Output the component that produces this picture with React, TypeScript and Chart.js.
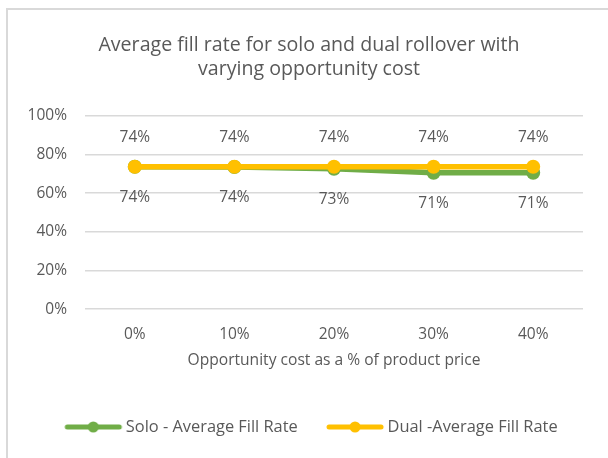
import React, { useEffect, useRef } from "react";
import { Chart, registerables } from "chart.js";

Chart.register(...registerables);

const categories = ["0%", "10%", "20%", "30%", "40%"];
const soloFillRate = [0.737, 0.736, 0.727, 0.706, 0.706];
const dualFillRate = [0.737, 0.737, 0.737, 0.737, 0.737];
const yTickValues = [0, 0.2, 0.4, 0.6, 0.8, 1.0];

const titleLines = [
  "Average fill rate for solo and dual rollover with",
  "varying opportunity cost",
];
const xAxisTitle = "Opportunity cost as a % of product price";
const soloLabel = "Solo - Average Fill Rate";
const dualLabel = "Dual -Average Fill Rate";

const GREEN = "#70AD47";
const YELLOW = "#FFC000";
const TEXT = "#595959";
const GRID = "#d9d9d9";
const FONT = "'Open Sans', Lato, sans-serif";

function legendImage(color: string): HTMLCanvasElement {
  const c = document.createElement("canvas");
  c.width = 60;
  c.height = 14;
  const ctx = c.getContext("2d")!;
  ctx.strokeStyle = color;
  ctx.lineWidth = 5;
  ctx.lineCap = "round";
  ctx.beginPath();
  ctx.moveTo(4, 7);
  ctx.lineTo(56, 7);
  ctx.stroke();
  ctx.fillStyle = color;
  ctx.beginPath();
  ctx.arc(30, 7, 5.5, 0, Math.PI * 2);
  ctx.fill();
  return c;
}

const dataLabels = {
  id: "dataLabels",
  afterDatasetsDraw(chart: any) {
    const ctx = chart.ctx;
    ctx.save();
    ctx.font = `15.5px ${FONT}`;
    ctx.fillStyle = TEXT;
    ctx.textAlign = "center";
    ctx.textBaseline = "middle";
    chart.data.datasets.forEach((ds: any, i: number) => {
      const meta = chart.getDatasetMeta(i);
      meta.data.forEach((el: any, j: number) => {
        const v = ds.data[j] as number;
        ctx.fillText(Math.round(v * 100) + "%", el.x, el.y + ds.labelOffset);
      });
    });
    ctx.restore();
  },
};

const boxShift = {
  id: "boxShift",
  afterLayout(chart: any) {
    const lg = chart.legend;
    if (lg) {
      const h = lg.height;
      lg.left = 36;
      lg.right = chart.width;
      lg.width = lg.right - lg.left;
      lg.top = 385.8;
      lg.bottom = lg.top + h;
    }
    const tb = chart.titleBlock;
    if (tb) {
      tb.left = 10;
      tb.right = chart.width;
      tb.width = tb.right - tb.left;
    }
  },
};

export default function App() {
  const ref = useRef<HTMLCanvasElement>(null);
  useEffect(() => {
    const greenImg = legendImage(GREEN);
    const yellowImg = legendImage(YELLOW);
    const chart = new Chart(ref.current!, {
      type: "line",
      data: {
        labels: categories,
        datasets: [
          {
            label: soloLabel,
            data: soloFillRate,
            borderColor: GREEN,
            backgroundColor: GREEN,
            borderWidth: 5.5,
            pointRadius: 7,
            pointBorderWidth: 0,
            pointBackgroundColor: GREEN,
            order: 1,
            labelOffset: 31,
          } as any,
          {
            label: dualLabel,
            data: dualFillRate,
            borderColor: YELLOW,
            backgroundColor: YELLOW,
            borderWidth: 5.5,
            pointRadius: 7,
            pointBorderWidth: 0,
            pointBackgroundColor: YELLOW,
            order: 0,
            labelOffset: -29,
          } as any,
        ],
      },
      options: {
        responsive: false,
        animation: false,
        layout: { padding: { left: 25, right: 25, top: 0, bottom: 23.2 } },
        scales: {
          x: {
            offset: true,
            grid: { display: false, drawTicks: false },
            border: { display: false },
            ticks: { color: TEXT, font: { family: FONT, size: 15.5 }, padding: 15.7 },
            title: {
              display: true,
              text: xAxisTitle,
              color: TEXT,
              font: { family: FONT, size: 15.6 },
              padding: { top: -7.4, bottom: 5 },
            },
          },
          y: {
            min: 0,
            max: 1,
            afterBuildTicks(scale: any) {
              scale.ticks = yTickValues.map((v) => ({ value: v }));
            },
            afterFit(scale: any) {
              scale.width = 60;
            },
            grid: { color: GRID, lineWidth: 1.5, drawTicks: false },
            border: { display: false },
            ticks: {
              color: TEXT,
              font: { family: FONT, size: 15.5 },
              padding: 18,
              callback: (v: any) => Math.round(Number(v) * 100) + "%",
            },
          },
        },
        plugins: {
          title: {
            display: true,
            text: titleLines,
            color: TEXT,
            font: { family: FONT, size: 19.6, weight: "normal" as any, lineHeight: "24px" },
            padding: { top: 33, bottom: 35 },
          },
          legend: {
            position: "bottom",
            align: "start",
            labels: {
              color: TEXT,
              font: { family: FONT, size: 16.4 },
              usePointStyle: true,
              pointStyleWidth: 48.6,
              padding: 33,
              sort: (a: any, b: any) => a.datasetIndex - b.datasetIndex,
              generateLabels(ch: any) {
                const items = Chart.defaults.plugins.legend.labels.generateLabels(ch);
                items.forEach((it: any) => {
                  it.pointStyle = it.datasetIndex === 0 ? greenImg : yellowImg;
                });
                return items;
              },
            },
          },
          tooltip: { enabled: false },
        },
      },
      plugins: [dataLabels, boxShift],
    });
    return () => chart.destroy();
  }, []);

  return (
    <div style={{ position: "absolute", left: 0, top: 0, width: 608, height: 458, background: "#fff", overflow: "hidden" }}>
      <div
        style={{
          position: "absolute",
          left: 6,
          top: 8,
          width: 620,
          height: 470,
          borderLeft: `2px solid ${GRID}`,
          borderTop: `2px solid ${GRID}`,
        }}
      />
      <canvas ref={ref} width={608} height={458} style={{ position: "absolute", left: 0, top: 0 }} />
    </div>
  );
}
